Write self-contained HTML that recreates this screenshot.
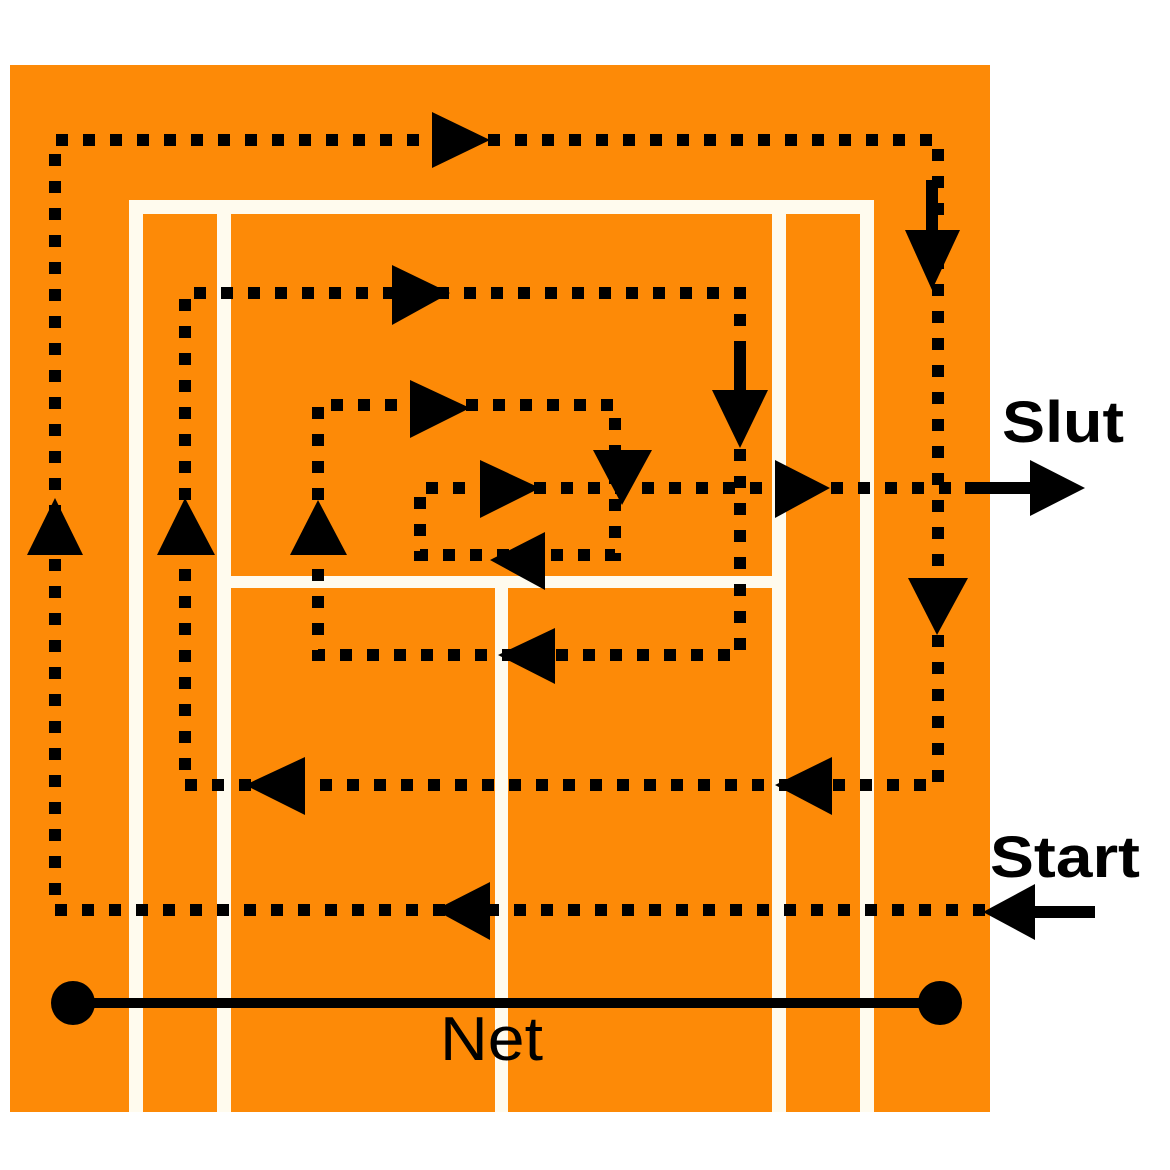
<!DOCTYPE html>
<html><head><meta charset="utf-8"><style>
html,body{margin:0;padding:0;background:#fff;}
svg{display:block;}
text{font-family:"Liberation Sans",sans-serif;fill:#000;}
</style></head><body>
<svg width="1170" height="1170" viewBox="0 0 1170 1170" xmlns="http://www.w3.org/2000/svg">
<rect x="0" y="0" width="1170" height="1170" fill="#fff"/>
<rect x="10" y="65" width="980" height="1047" fill="#fd8a07"/>
<g fill="#fffbee">
<rect x="129" y="200" width="744" height="14"/>
<rect x="129" y="200" width="14" height="912"/>
<rect x="217" y="200" width="14" height="912"/>
<rect x="772" y="200" width="14" height="912"/>
<rect x="860" y="200" width="14" height="912"/>
<rect x="217" y="576" width="569" height="12"/>
<rect x="495" y="576" width="13" height="536"/>
</g>
<path d="M985 910 H55 V140 H938 V785 H185 V293 H740 V655 H318 V405 H615 V555 H420 V488 H965"
 fill="none" stroke="#000" stroke-width="12" stroke-dasharray="12 15"/>
<line x1="965" y1="488" x2="1035" y2="488" stroke="#000" stroke-width="12"/>
<polygon points="1030,460 1085,488 1030,516" fill="#000"/>
<line x1="1030" y1="912" x2="1095" y2="912" stroke="#000" stroke-width="12"/>
<polygon points="983,912 1035,884 1035,940" fill="#000"/>
<g fill="#000">
<polygon points="432,112 490,140 432,168"/>
<polygon points="905,230 960,230 932,290"/>
<line x1="932" y1="180" x2="932" y2="240" stroke="#000" stroke-width="12"/>
<polygon points="27,555 83,555 55,498"/>
<polygon points="392,265 450,293 392,325"/>
<polygon points="712,390 768,390 740,448"/>
<line x1="740" y1="345" x2="740" y2="400" stroke="#000" stroke-width="12"/>
<polygon points="157,555 215,555 185,498"/>
<polygon points="410,380 470,408 410,438"/>
<polygon points="593,450 652,450 622,505"/>
<polygon points="290,555 347,555 318,500"/>
<polygon points="480,460 540,488 480,518"/>
<polygon points="775,460 830,488 775,518"/>
<polygon points="545,532 490,560 545,590"/>
<polygon points="555,628 498,655 555,684"/>
<polygon points="908,578 968,578 937,635"/>
<polygon points="305,757 245,785 305,815"/>
<polygon points="832,757 775,785 832,815"/>
<polygon points="490,882 435,910 490,940"/>
</g>
<line x1="73" y1="1003" x2="940" y2="1003" stroke="#000" stroke-width="10"/>
<circle cx="73" cy="1003" r="22" fill="#000"/>
<circle cx="940" cy="1003" r="22" fill="#000"/>
<text x="440" y="1060" font-size="62" textLength="103" lengthAdjust="spacingAndGlyphs">Net</text>
<text x="1002" y="442" font-size="58" font-weight="bold" textLength="122" lengthAdjust="spacingAndGlyphs">Slut</text>
<text x="990" y="877" font-size="58" font-weight="bold" textLength="150" lengthAdjust="spacingAndGlyphs">Start</text>
</svg>
</body></html>
